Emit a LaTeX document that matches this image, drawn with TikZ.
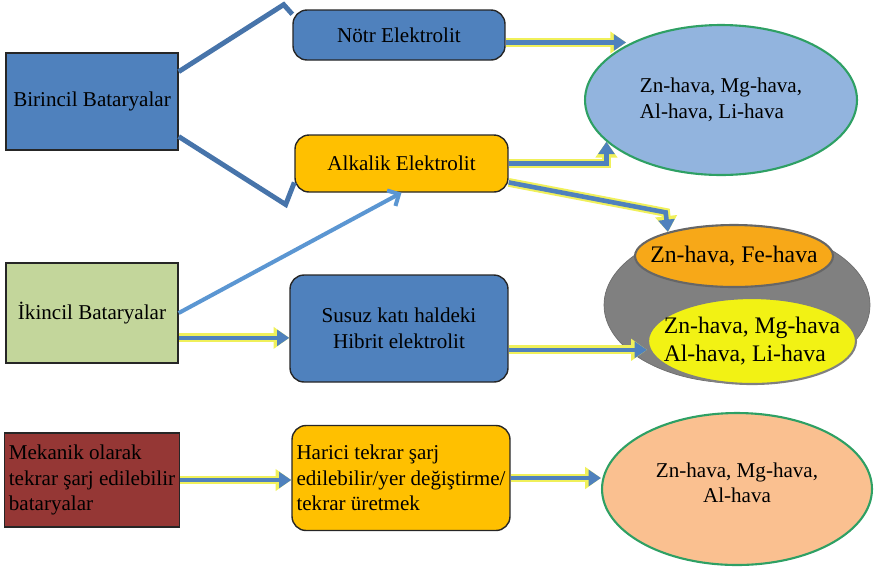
\documentclass[tikz,border=0pt]{standalone}
\usepackage{fontspec}
\setmainfont{Liberation Serif}
\usetikzlibrary{shapes.geometric,arrows.meta}
\definecolor{boxblue}{RGB}{79,129,189}
\definecolor{amber}{RGB}{255,192,0}
\definecolor{leaf}{RGB}{195,214,155}
\definecolor{brick}{RGB}{149,55,53}
\definecolor{skyell}{RGB}{146,180,222}
\definecolor{ovalgreen}{RGB}{46,160,100}
\definecolor{shade}{RGB}{128,128,128}
\definecolor{tangerine}{RGB}{247,168,24}
\definecolor{lemon}{RGB}{242,242,20}
\definecolor{peach}{RGB}{250,192,144}
\definecolor{glow}{RGB}{240,240,90}
\definecolor{lightlink}{RGB}{91,150,210}
\tikzset{
  box/.style={draw=black!85,line width=0.8pt,minimum width=3.44cm,align=center,inner sep=2.5pt},
  rbox/.style={box,rounded corners=8pt},
  oval/.style={ellipse,draw=ovalgreen,line width=1.2pt,inner sep=0pt},
  txt/.style={inner sep=0pt,align=left},
  link/.style={draw=boxblue!90!black,line width=2.8pt,line join=miter},
  flow/.style={draw=boxblue,line width=2.6pt,-{Triangle[length=7pt,width=9pt]},
    preaction={draw=glow,line width=5pt,-{Triangle[length=9pt,width=12pt]}}}
}
\begin{document}
\begin{tikzpicture}[x=0.02cm,y=-0.02cm,font=\fontsize{12}{14.5}\selectfont]
  \useasboundingbox (0,0) rectangle (874,566);
  % left column
  \node[box,fill=boxblue,minimum height=1.94cm] (birincil) at (92,101.5) {Birincil Bataryalar};
  \node[box,fill=leaf,minimum height=2cm] (ikincil) at (92,313) {İkincil Bataryalar};
  \node[box,fill=brick,minimum height=1.88cm,align=left] (mekanik) at (92,480)
    {Mekanik olarak\\tekrar şarj edilebilir\\ bataryalar};
  % middle column
  \node[rbox,fill=boxblue,minimum width=4.24cm,minimum height=1cm] (notr) at (399,35) {Nötr Elektrolit};
  \node[rbox,fill=amber,minimum width=4.26cm,minimum height=1.14cm] (alkalik) at (401.5,163.5) {Alkalik Elektrolit};
  \node[rbox,fill=boxblue,minimum width=4.36cm,minimum height=2.14cm] (susuz) at (399,328.5)
    {Susuz katı haldeki\\Hibrit elektrolit};
  \node[rbox,fill=amber,minimum width=4.36cm,minimum height=2.1cm,align=left] (harici) at (401,478)
    {Harici tekrar şarj\\edilebilir/yer değiştirme/\\tekrar üretmek};
  % right column
  \node[oval,fill=skyell,minimum width=5.44cm,minimum height=3cm] (havaA) at (721,100) {};
  \node[ellipse,fill=shade,draw=shade!85!black,minimum width=5.32cm,minimum height=3.12cm] (grup) at (737,305) {};
  \node[oval,fill=tangerine,draw=black!60,minimum width=3.96cm,minimum height=1.24cm] (havaB) at (734,256) {};
  \node[oval,fill=lemon,draw=black!50,minimum width=4.16cm,minimum height=1.72cm] (havaC) at (752,341) {};
  \node[oval,fill=peach,draw=ovalgreen,minimum width=5.4cm,minimum height=3.04cm] (havaD) at (737,489) {};
  \node[txt] (havaAtxt) at (havaA) {Zn-hava, Mg-hava,\\Al-hava, Li-hava};
  \node[txt,font=\fontsize{13.5}{16}\selectfont] (havaBtxt) at (havaB) {Zn-hava, Fe-hava};
  \node[txt,font=\fontsize{13.5}{16}\selectfont] (havaCtxt) at (havaC) {Zn-hava, Mg-hava\\Al-hava, Li-hava};
  \node[txt,align=center] (havaDtxt) at ([yshift=0.12cm]havaD) {Zn-hava, Mg-hava,\\Al-hava};
  % links
  \draw[link] (birincil.19) -- ++(105,-67) -- (notr.169);
  \draw[link] (birincil.-22) -- ++(107,68) -- (alkalik.190);
  \draw[draw=lightlink,line width=2.3pt,-{Straight Barb[length=5pt,width=10pt]}] (ikincil.east) -- (alkalik.south);
  % flows
  \draw[flow] (notr.-4) -- (notr.-4 -| havaA.150);
  \draw[flow] (alkalik.east) -| (havaA.200);
  \draw[flow] (alkalik.-10) -- ++(157,30) -- (havaB.160);
  \draw[flow] (ikincil.-16) -- (ikincil.-16 -| susuz.west);
  \draw[flow] (susuz.-11) -- (susuz.-11 -| havaC.west);
  \draw[flow] (mekanik.east) -- (mekanik.east -| harici.west);
  \draw[flow] (harici.east) -- (harici.east -| havaD.west);
\end{tikzpicture}
\end{document}
